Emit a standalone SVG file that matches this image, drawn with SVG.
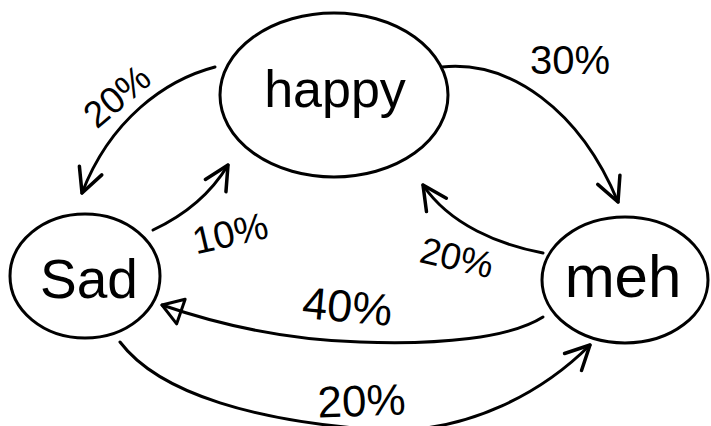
<svg xmlns="http://www.w3.org/2000/svg" width="711" height="426" viewBox="0 0 711 426">
  <style>
    .node { fill: none; stroke: #000; stroke-width: 3; }
    .edge { fill: none; stroke: #000; stroke-width: 3; stroke-linecap: round; }
    .name { font-family: "Liberation Sans", "DejaVu Sans", sans-serif; fill: #000; text-anchor: middle; }
    .lbl { font-family: "Liberation Sans", "DejaVu Sans", sans-serif; fill: #000; text-anchor: middle; }
  </style>
  <defs>
    <marker id="open" markerUnits="userSpaceOnUse" markerWidth="40" markerHeight="40" refX="0" refY="0" viewBox="-30 -20 40 40" orient="auto" overflow="visible">
      <path d="M-24,-12 L0,0 L-24,12" fill="none" stroke="#000" stroke-width="3.5" stroke-linecap="round" stroke-linejoin="round"/>
    </marker>
    <marker id="tri" markerUnits="userSpaceOnUse" markerWidth="40" markerHeight="40" refX="0" refY="0" viewBox="-30 -20 40 40" orient="auto" overflow="visible">
      <path d="M0,0 L-20,-13 L-20,13 Z" fill="none" stroke="#000" stroke-width="3" stroke-linejoin="round"/>
    </marker>
  </defs>
  <rect width="711" height="426" fill="#fff"/>

  <g id="connectors">
    <path class="edge" d="M215,67 C165,80 110,120 82,193" marker-end="url(#open)"/>
    <path class="edge" d="M442,67 C510,60 580,110 618,202" marker-end="url(#open)"/>
    <path class="edge" d="M153,230 C185,215 210,195 228,165" marker-end="url(#open)"/>
    <path class="edge" d="M543,253 C500,245 450,225 423,185" marker-end="url(#open)"/>
    <path class="edge" d="M543,317 C510,338 440,345 360,342 C290,340 220,325 162,305" marker-end="url(#tri)"/>
    <path class="edge" d="M120,342 C160,395 260,422 380,430 C470,434 545,390 590,345" marker-end="url(#open)"/>
    <text class="lbl" font-size="37" transform="translate(125,106) rotate(-40)">20%</text>
    <text class="lbl" font-size="40" x="570" y="74">30%</text>
    <text class="lbl" font-size="38" transform="translate(233,246) rotate(-13)">10%</text>
    <text class="lbl" font-size="37" transform="translate(454,270) rotate(13)">20%</text>
    <text class="lbl" font-size="45" transform="translate(346,322) rotate(5)">40%</text>
    <text class="lbl" font-size="44" transform="translate(362,416) rotate(-2)">20%</text>
  </g>

  <g id="happy">
    <ellipse class="node" cx="334" cy="95" rx="114" ry="82"/>
    <text class="name" x="335" y="107" font-size="52">happy</text>
  </g>
  <g id="sad">
    <ellipse class="node" cx="85" cy="276" rx="75" ry="62"/>
    <text class="name" x="89" y="298" font-size="55">Sad</text>
  </g>
  <g id="meh">
    <ellipse class="node" cx="625" cy="280" rx="83" ry="63"/>
    <text class="name" x="623" y="297" font-size="60">meh</text>
  </g>
</svg>
